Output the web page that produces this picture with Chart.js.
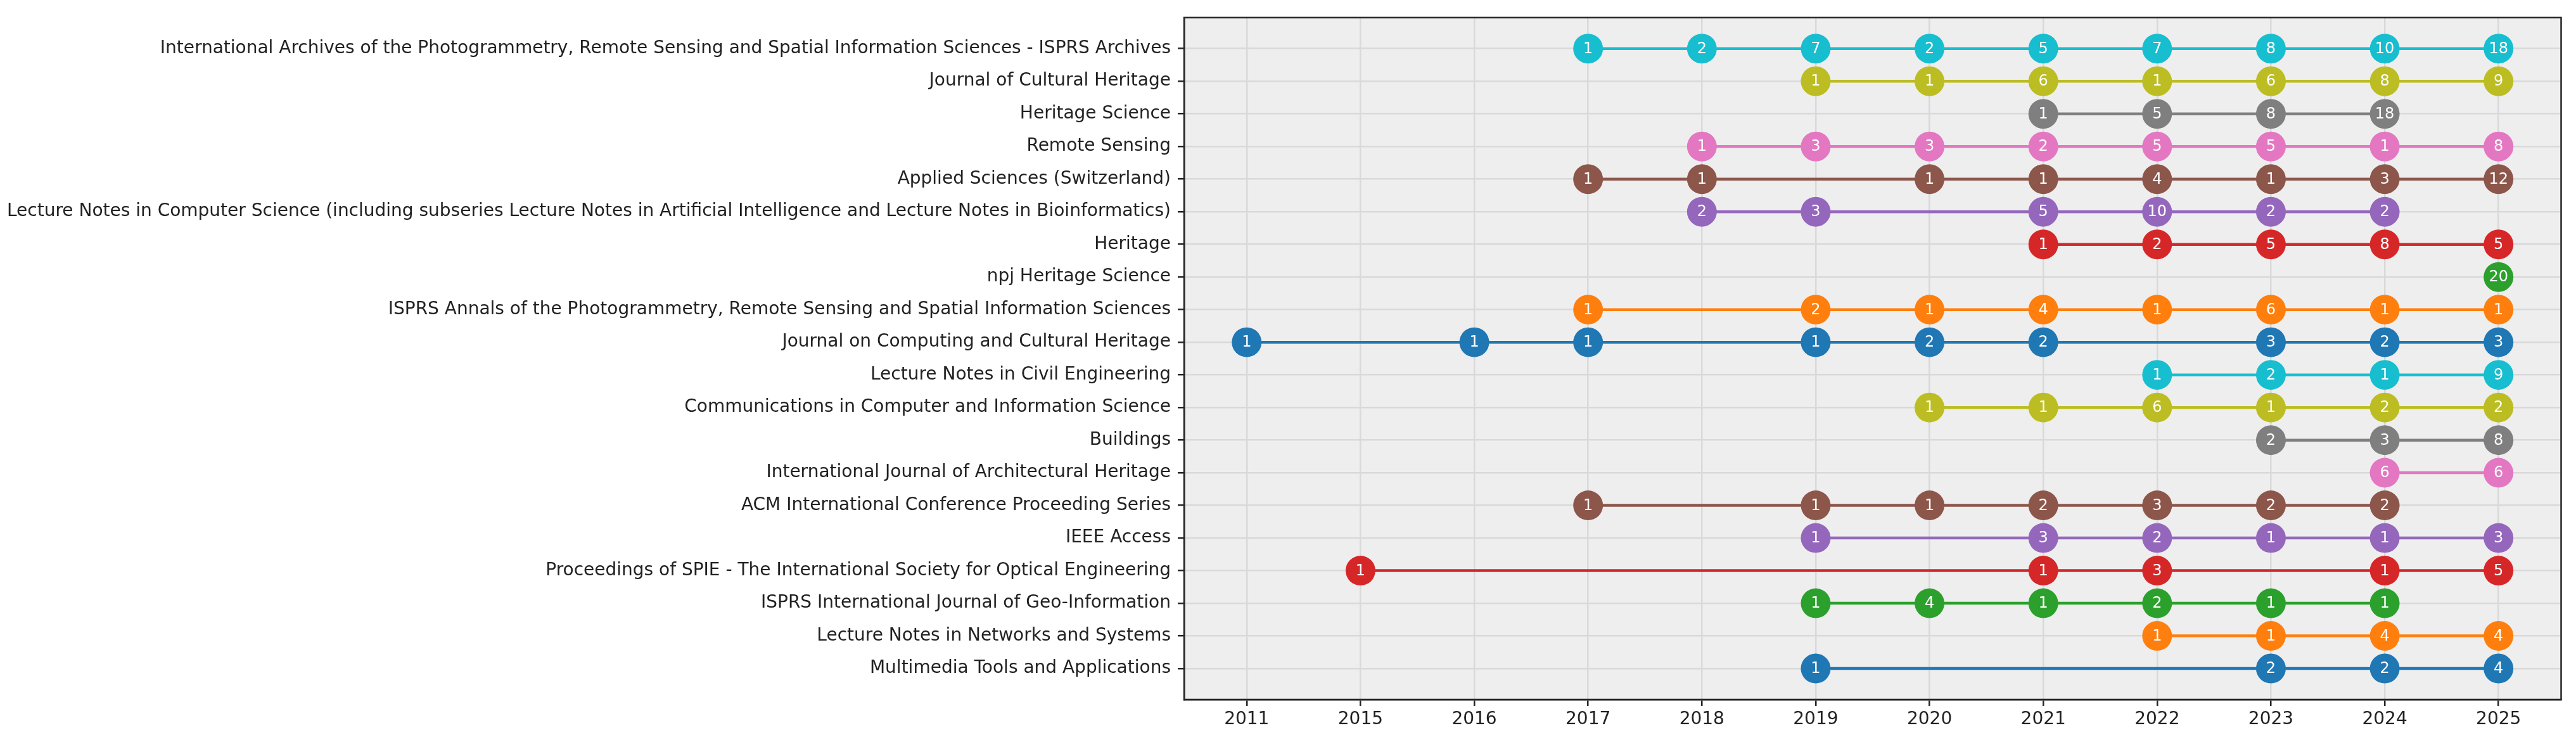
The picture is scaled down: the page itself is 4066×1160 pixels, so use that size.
<!DOCTYPE html>
<html>
<head>
<meta charset="utf-8">
<script src="https://cdn.jsdelivr.net/npm/chart.js@4.4.1/dist/chart.umd.min.js"></script>
<style>
  html, body { margin: 0; padding: 0; background: #ffffff; }
  canvas { display: block; }
</style>
</head>
<body>
<canvas id="myChart" width="4066" height="1160"></canvas>
<script>
// years on the x axis (evenly spaced, not a time scale)
var years = ['2011', '2015', '2016', '2017', '2018', '2019', '2020', '2021', '2022', '2023', '2024', '2025'];

// journals, top to bottom
var journals = [
    'International Archives of the Photogrammetry, Remote Sensing and Spatial Information Sciences - ISPRS Archives',
    'Journal of Cultural Heritage',
    'Heritage Science',
    'Remote Sensing',
    'Applied Sciences (Switzerland)',
    'Lecture Notes in Computer Science (including subseries Lecture Notes in Artificial Intelligence and Lecture Notes in Bioinformatics)',
    'Heritage',
    'npj Heritage Science',
    'ISPRS Annals of the Photogrammetry, Remote Sensing and Spatial Information Sciences',
    'Journal on Computing and Cultural Heritage',
    'Lecture Notes in Civil Engineering',
    'Communications in Computer and Information Science',
    'Buildings',
    'International Journal of Architectural Heritage',
    'ACM International Conference Proceeding Series',
    'IEEE Access',
    'Proceedings of SPIE - The International Society for Optical Engineering',
    'ISPRS International Journal of Geo-Information',
    'Lecture Notes in Networks and Systems',
    'Multimedia Tools and Applications'
];

// papers per year, one row per journal (same order), null = none that year
//            2011  2015  2016  2017  2018  2019  2020  2021  2022  2023  2024  2025
var isprsArchives = [null, null, null, 1,    2,    7,    2,    5,    7,    8,    10,   18];
var jCultHeritage = [null, null, null, null, null, 1,    1,    6,    1,    6,    8,    9];
var heritageSci   = [null, null, null, null, null, null, null, 1,    5,    8,    18,   null];
var remoteSensing = [null, null, null, null, 1,    3,    3,    2,    5,    5,    1,    8];
var appliedSci    = [null, null, null, 1,    1,    null, 1,    1,    4,    1,    3,    12];
var lncs          = [null, null, null, null, 2,    3,    null, 5,    10,   2,    2,    null];
var heritage      = [null, null, null, null, null, null, null, 1,    2,    5,    8,    5];
var npjHeritage   = [null, null, null, null, null, null, null, null, null, null, null, 20];
var isprsAnnals   = [null, null, null, 1,    null, 2,    1,    4,    1,    6,    1,    1];
var jocch         = [1,    null, 1,    1,    null, 1,    2,    2,    null, 3,    2,    3];
var lnce          = [null, null, null, null, null, null, null, null, 1,    2,    1,    9];
var ccis          = [null, null, null, null, null, null, 1,    1,    6,    1,    2,    2];
var buildings     = [null, null, null, null, null, null, null, null, null, 2,    3,    8];
var ijah          = [null, null, null, null, null, null, null, null, null, null, 6,    6];
var acmIcps       = [null, null, null, 1,    null, 1,    1,    2,    3,    2,    2,    null];
var ieeeAccess    = [null, null, null, null, null, 1,    null, 3,    2,    1,    1,    3];
var spie          = [null, 1,    null, null, null, null, null, 1,    3,    null, 1,    5];
var ijgi          = [null, null, null, null, null, 1,    4,    1,    2,    1,    1,    null];
var lnns          = [null, null, null, null, null, null, null, null, 1,    1,    4,    4];
var mtap          = [null, null, null, null, null, 1,    null, null, null, 2,    2,    4];

var counts = [isprsArchives, jCultHeritage, heritageSci, remoteSensing, appliedSci, lncs, heritage,
    npjHeritage, isprsAnnals, jocch, lnce, ccis, buildings, ijah, acmIcps, ieeeAccess, spie, ijgi, lnns, mtap];

// matplotlib tab10, cycled from the bottom row upwards
var tab10 = ['#1f77b4', '#ff7f0e', '#2ca02c', '#d62728', '#9467bd', '#8c564b', '#e377c2', '#7f7f7f', '#bcbd22', '#17becf'];

var FONT = '"DejaVu Sans", sans-serif';

var datasets = [];
for (var r = journals.length - 1; r >= 0; r--) {
    var colour = tab10[(journals.length - 1 - r) % 10];
    var pts = [];
    counts[r].forEach(function (v, i) {
        if (v !== null) pts.push({ x: i, y: r, n: v });
    });
    datasets.push({
        label: journals[r],
        data: pts,
        borderColor: colour,
        backgroundColor: colour,
        pointBackgroundColor: colour,
        pointBorderWidth: 0,
        pointRadius: 23.5,
        borderWidth: 4.5,
        showLine: true,
        tension: 0
    });
}

// grey plot background + full box around it
var frame = {
    id: 'frame',
    beforeDraw: function (chart) {
        var a = chart.chartArea, ctx = chart.ctx;
        ctx.save();
        ctx.fillStyle = '#eeeeee';
        ctx.fillRect(a.left, a.top, a.right - a.left, a.bottom - a.top);
        ctx.restore();
    },
    afterDraw: function (chart) {
        var a = chart.chartArea, ctx = chart.ctx;
        ctx.save();
        ctx.strokeStyle = '#262626';
        ctx.lineWidth = 2.5;
        ctx.strokeRect(a.left, a.top, a.right - a.left, a.bottom - a.top);
        ctx.restore();
    }
};

// count written inside every marker
var pointLabels = {
    id: 'pointLabels',
    afterDatasetsDraw: function (chart) {
        var ctx = chart.ctx;
        ctx.save();
        ctx.fillStyle = '#ffffff';
        ctx.font = '24px ' + FONT;
        ctx.textAlign = 'center';
        ctx.textBaseline = 'middle';
        chart.data.datasets.forEach(function (ds, di) {
            chart.getDatasetMeta(di).data.forEach(function (el, i) {
                ctx.fillText(String(ds.data[i].n), el.x, el.y + 1);
            });
        });
        ctx.restore();
    }
};

var c = document.getElementById("myChart");
var ctx = c.getContext("2d");

var chart = new Chart(ctx, {
    type: 'scatter',
    data: { datasets: datasets },
    plugins: [frame, pointLabels],
    options: {
        responsive: false,
        animation: false,
        devicePixelRatio: 1,
        layout: { padding: { top: 24, right: 22, bottom: 0, left: 0 } },
        plugins: {
            legend: { display: false },
            tooltip: { enabled: false }
        },
        scales: {
            x: {
                type: 'linear',
                min: -0.55,
                max: 11.55,
                afterBuildTicks: function (scale) {
                    scale.ticks = years.map(function (_, i) { return { value: i }; });
                },
                afterFit: function (scale) { scale.height = 56; },
                ticks: {
                    autoSkip: false,
                    maxRotation: 0,
                    padding: 5,
                    color: '#222222',
                    font: { family: FONT, size: 28 },
                    callback: function (v) { return years[v]; }
                },
                grid: {
                    color: '#d9d9d9',
                    lineWidth: 2.5,
                    tickLength: 10,
                    tickColor: '#262626',
                    tickWidth: 2.5
                },
                border: { display: true, color: '#262626', width: 2.5 }
            },
            y: {
                type: 'linear',
                reverse: true,
                min: -0.95,
                max: 19.95,
                afterBuildTicks: function (scale) {
                    scale.ticks = journals.map(function (_, i) { return { value: i }; });
                },
                afterFit: function (scale) { scale.width = 1869; },
                ticks: {
                    autoSkip: false,
                    padding: 11,
                    color: '#222222',
                    font: { family: FONT, size: 28 },
                    callback: function (v) { return journals[v]; }
                },
                grid: {
                    color: '#d9d9d9',
                    lineWidth: 2.5,
                    tickLength: 10,
                    tickColor: '#262626',
                    tickWidth: 2.5
                },
                border: { display: true, color: '#262626', width: 2.5 }
            }
        }
    }
});
</script>
</body>
</html>
